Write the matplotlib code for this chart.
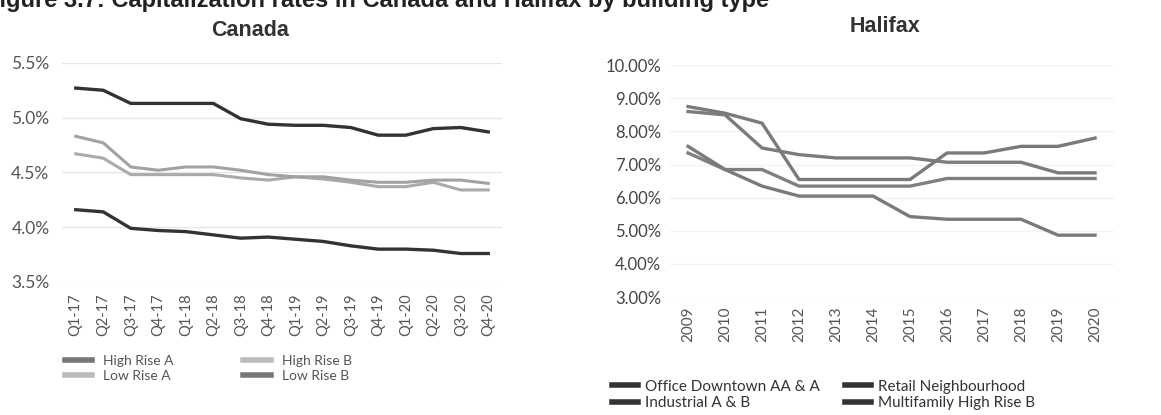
import matplotlib
matplotlib.use("Agg")
import matplotlib.pyplot as plt
from matplotlib.ticker import FuncFormatter

# Canada, quarterly cap rates (%)
quarters = ["Q1-17", "Q2-17", "Q3-17", "Q4-17", "Q1-18", "Q2-18", "Q3-18", "Q4-18",
            "Q1-19", "Q2-19", "Q3-19", "Q4-19", "Q1-20", "Q2-20", "Q3-20", "Q4-20"]
high_rise_a = [5.27, 5.25, 5.13, 5.13, 5.13, 5.13, 4.99, 4.94,
               4.93, 4.93, 4.91, 4.84, 4.84, 4.90, 4.91, 4.87]
low_rise_a = [4.67, 4.63, 4.48, 4.48, 4.48, 4.48, 4.45, 4.43,
              4.46, 4.44, 4.41, 4.37, 4.37, 4.41, 4.34, 4.34]
high_rise_b = [4.83, 4.77, 4.55, 4.52, 4.55, 4.55, 4.52, 4.48,
               4.46, 4.46, 4.43, 4.41, 4.41, 4.43, 4.43, 4.40]
low_rise_b = [4.16, 4.14, 3.99, 3.97, 3.96, 3.93, 3.90, 3.91,
              3.89, 3.87, 3.83, 3.80, 3.80, 3.79, 3.76, 3.76]

# Halifax, yearly cap rates (%)
years = [2009, 2010, 2011, 2012, 2013, 2014, 2015, 2016, 2017, 2018, 2019, 2020]
office = [8.75, 8.55, 8.25, 6.55, 6.55, 6.55, 6.55, 7.35, 7.35, 7.55, 7.55, 7.80]
industrial = [7.35, 6.85, 6.85, 6.35, 6.35, 6.35, 6.35, 6.58, 6.58, 6.58, 6.58, 6.58]
retail = [8.60, 8.50, 7.50, 7.30, 7.20, 7.20, 7.20, 7.07, 7.07, 7.07, 6.75, 6.75]
multifamily = [7.55, 6.85, 6.35, 6.05, 6.05, 6.05, 5.43, 5.35, 5.35, 5.35, 4.87, 4.87]

tick_font = "Lato"
plt.rcParams["font.family"] = [tick_font, "DejaVu Sans"]

fig = plt.figure(figsize=(11.61, 4.15), dpi=100)

# page caption, cut off by the top edge as in the scan
fig.text(-0.013, 0.984, "Figure 3.7: Capitalization rates in Canada and Halifax by building type",
         fontsize=17, fontweight="bold", family="Liberation Sans", color="#222222", va="baseline")

# ---- Canada ----
ax1 = fig.add_axes([0.0534, 0.3205, 0.379, 0.528])
x = range(len(quarters))
ax1.plot(x, high_rise_a, color="#333333", lw=2.4, label="High Rise A")
ax1.plot(x, low_rise_a, color="#aaaaaa", lw=2.2, label="Low Rise A")
ax1.plot(x, high_rise_b, color="#a2a2a2", lw=2.2, label="High Rise B")
ax1.plot(x, low_rise_b, color="#333333", lw=2.4, label="Low Rise B")
ax1.set_xlim(-0.5, 15.5)
ax1.set_ylim(3.5, 5.5)
ax1.set_yticks([3.5, 4.0, 4.5, 5.0, 5.5])
ax1.yaxis.set_major_formatter(FuncFormatter(lambda v, p: f"{v:.1f}%"))
ax1.set_xticks(list(x))
ax1.set_xticklabels(quarters, rotation=90)
ax1.grid(axis="y", color="#e6e6e6", lw=1)
ax1.tick_params(length=0, labelsize=10.5, labelcolor="#555555")
ax1.tick_params(axis="y", labelsize=12.5, pad=9)
ax1.tick_params(axis="x", pad=8)
for s in ax1.spines.values():
    s.set_visible(False)
fig.text(250 / 1161, 1 - 30 / 415, "Canada", ha="center", va="center",
         fontsize=15.5, fontweight="bold", family="Liberation Sans", color="#333333")
leg1 = ax1.legend(loc="upper left", bbox_to_anchor=(52 / 1161, 1 - 342 / 415),
                  bbox_transform=fig.transFigure, ncol=2, frameon=False, fontsize=10,
                  handlelength=2.0, columnspacing=5.0, labelspacing=0.25,
                  labelcolor="#555555")
for h, c in zip(leg1.legend_handles, ["#777777", "#bbbbbb", "#bbbbbb", "#777777"]):
    h.set_color(c)
    h.set_linewidth(4)

# ---- Halifax ----
ax2 = fig.add_axes([0.5767, 0.284, 0.3824, 0.559])
ax2.plot(years, office, color="#7a7a7a", lw=2.4, label="Office Downtown AA & A")
ax2.plot(years, industrial, color="#7f7f7f", lw=2.4, label="Industrial A & B")
ax2.plot(years, retail, color="#7c7c7c", lw=2.4, label="Retail Neighbourhood")
ax2.plot(years, multifamily, color="#7a7a7a", lw=2.4, label="Multifamily High Rise B")
ax2.set_xlim(2008.5, 2020.5)
ax2.set_ylim(3, 10)
ax2.set_yticks(range(3, 11))
ax2.yaxis.set_major_formatter(FuncFormatter(lambda v, p: f"{v:.2f}%"))
ax2.set_xticks(years)
ax2.set_xticklabels([str(yr) for yr in years], rotation=90)
ax2.grid(axis="y", color="#f3f3f3", lw=1)
ax2.tick_params(length=0, labelsize=11, labelcolor="#555555")
ax2.tick_params(axis="y", labelsize=12, labelcolor="#444444", pad=6)
ax2.tick_params(axis="x", pad=7)
for s in ax2.spines.values():
    s.set_visible(False)
fig.text(885 / 1161, 1 - 27 / 415, "Halifax", ha="center", va="center",
         fontsize=15.5, fontweight="bold", family="Liberation Sans", color="#333333")
leg2 = ax2.legend(loc="upper left", bbox_to_anchor=(598 / 1161, 1 - 366 / 415),
                  bbox_transform=fig.transFigure, ncol=2, frameon=False, fontsize=11,
                  handlelength=1.7, handletextpad=0.5, columnspacing=1.6, labelspacing=0.15,
                  labelcolor="#333333")
for h in leg2.legend_handles:
    h.set_color("#333333")
    h.set_linewidth(4)

fig.savefig("out.png", dpi=100)
